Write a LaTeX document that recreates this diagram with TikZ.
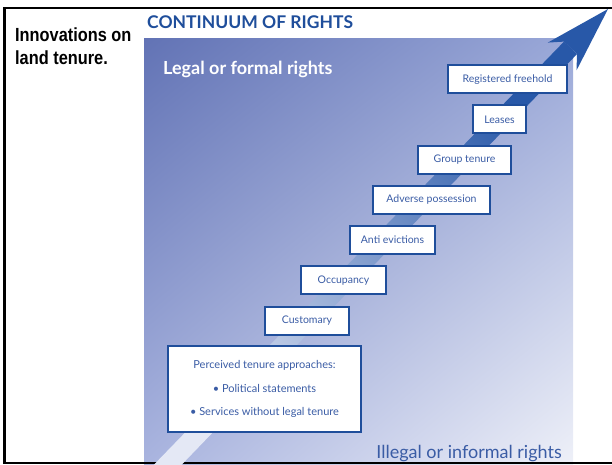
\documentclass[tikz,border=0pt]{standalone}
\usepackage{fontspec}
\setmainfont{Lato}
\newfontfamily\arialfont{Liberation Sans}
\usetikzlibrary{positioning,shadings}

\definecolor{rightsblue}{HTML}{1F4E9B}
\definecolor{rightstext}{HTML}{3A5CA5}
\definecolor{arrowblue}{HTML}{2858A8}
\definecolor{arrowmid}{HTML}{6A82C2}
\definecolor{arrowlow}{HTML}{E4E8F5}
\definecolor{panelUL}{HTML}{6273B5}
\definecolor{panelUR}{HTML}{9AA8D8}
\definecolor{panelLL}{HTML}{A9B4DF}
\definecolor{panelLR}{HTML}{EEF0F8}

\begin{document}
\begin{tikzpicture}[x=1pt,y=1pt,node distance=10.2pt]

  \tikzset{stepbox/.style={rectangle,draw=rightsblue,line width=2pt,
      fill=white,minimum height=28pt,inner sep=2pt,text=rightstext,
      font=\fontsize{10.5}{12}\selectfont}}

  \useasboundingbox (0,0) rectangle (612,464);

  \shade[upper left=panelUL,upper right=panelUR,
    lower left=panelLL,lower right=panelLR] (144,0) rectangle (573,425);

  \draw[line width=2.5pt] (612,456) -- (4.5,456) -- (4.5,1) -- (612,1);

  % the rising arrow
  \coordinate (tip) at (608,455);
  \coordinate (wingL) at (547.8,421.4);
  \coordinate (wingR) at (576.5,393.6);
  \coordinate (notchL) at (564.0,422.4);
  \coordinate (notchR) at (577.0,409.9);
  \coordinate (tailL) at (149.2,-5.6);
  \coordinate (tailR) at (163.6,-19.5);
  \shade[top color=arrowblue,middle color=arrowmid,bottom color=arrowlow,
    shading angle=-45] (tailL) -- (notchL) -- (notchR) -- (tailR) -- cycle;
  \fill[arrowblue] (tip) -- (wingL) -- (notchL) -- (notchR) -- (wingR) -- cycle;

  \node(heading)[anchor=north west,align=left,inner sep=0,
    font=\arialfont\bfseries\fontsize{19}{23}\selectfont] at (15,436)
    {\scalebox{0.86}[1]{Innovations on}\\\scalebox{0.86}[1]{land tenure.}};
  \node(title)[anchor=base west,inner sep=0,text=rightsblue,
    font=\bfseries\fontsize{17.5}{20}\selectfont] at (147,435)
    {CONTINUUM OF RIGHTS};
  \node(legal)[anchor=base west,inner sep=0,text=white,
    font=\bfseries\fontsize{18}{20}\selectfont] at (163,389)
    {Legal or formal rights};
  \node(illegal)[anchor=base east,inner sep=0,text=rightstext,
    font=\fontsize{18}{22}\selectfont] at (562,6)
    {Illegal or informal rights};

  \node(perceived)[stepbox,minimum width=193pt,minimum height=86pt,
    align=center,font=\fontsize{11}{13}\selectfont] at (264.5,75)
    {Perceived tenure approaches:\\[11pt]
     \textbullet\ Political statements\\[10pt]
     \textbullet\ Services without legal tenure};
  \node(customary)[stepbox,minimum width=84pt,above=9.5pt of perceived,
    xshift=42.5pt]{Customary};
  \node(occupancy)[stepbox,minimum width=85pt,above=of customary,
    xshift=36.5pt]{Occupancy};
  \node(antievict)[stepbox,minimum width=85pt,above=of occupancy,
    xshift=49pt]{Anti evictions};
  \node(adverse)[stepbox,minimum width=117pt,above=of antievict,
    xshift=39pt]{Adverse possession};
  \node(group)[stepbox,minimum width=93pt,above=of adverse,
    xshift=33pt]{Group tenure};
  \node(leases)[stepbox,minimum width=53pt,above=of group,
    xshift=35pt]{Leases};
  \node(freehold)[stepbox,minimum width=119pt,above=of leases,
    xshift=8pt]{Registered freehold};

\end{tikzpicture}
\end{document}
